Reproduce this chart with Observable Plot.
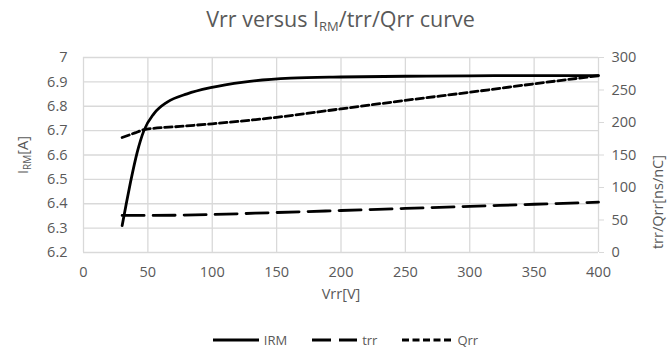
<!DOCTYPE html>
<html><head><meta charset="utf-8">
<script src="https://cdn.jsdelivr.net/npm/d3@7"></script>
<script src="https://cdn.jsdelivr.net/npm/@observablehq/plot@0.6"></script>
<style>
body{margin:0;background:#fff;font-family:"Open Sans",sans-serif;}
#wrap{width:671px;height:353px;position:relative;overflow:hidden;}
#title{position:absolute;top:6px;left:0;width:681px;text-align:center;font-size:21.5px;color:#595959;line-height:26px;}
#title sub{font-size:13px;vertical-align:-4px;line-height:0;}
#chart{position:absolute;top:40px;left:0;}
#legend{position:absolute;top:330px;left:0;width:690px;display:flex;justify-content:center;gap:24px;font-size:13px;color:#595959;line-height:20px;}
#legend span{display:flex;align-items:center;gap:4px;}
</style>
</head><body>
<div id="wrap">
  <div id="title">Vrr versus I<sub>RM</sub>/trr/Qrr curve</div>
  <div id="chart"></div>
  <div id="legend"></div>
</div>
<script>
// Data
const irmV = [30, 33, 36.5, 41.7, 46.9, 54.6, 65, 80.5, 98.6, 124.5, 160.8, 200, 250, 300, 350, 400];
const irmA = [6.31, 6.394, 6.488, 6.611, 6.70, 6.769, 6.817, 6.851, 6.876, 6.899, 6.915, 6.920, 6.923, 6.925, 6.926, 6.926];
const trrV = [30, 50, 100, 150, 200, 250, 300, 350, 400];
const trrNs = [57, 57, 58.5, 61.5, 64.6, 67.8, 71, 74.2, 77.4];
const qrrV = [30, 40, 47, 75, 100, 150, 200, 250, 300, 350, 400];
const qrrNc = [177, 184, 189, 194, 198, 208, 221, 234, 246.5, 259.5, 272];
const xTicks = [0, 50, 100, 150, 200, 250, 300, 350, 400];
const leftTicks = [6.2, 6.3, 6.4, 6.5, 6.6, 6.7, 6.8, 6.9, 7];
const rightTicks = [0, 50, 100, 150, 200, 250, 300];

const leftDomain = [6.2, 7];
const rightDomain = [0, 300];
const toLeft = v => leftDomain[0] + (v - rightDomain[0]) / (rightDomain[1] - rightDomain[0]) * (leftDomain[1] - leftDomain[0]);
const toRight = y => rightDomain[0] + (y - leftDomain[0]) / (leftDomain[1] - leftDomain[0]) * (rightDomain[1] - rightDomain[0]);

const irm = irmV.map((v, i) => ({v, y: irmA[i]}));
const trr = trrV.map((v, i) => ({v, y: toLeft(trrNs[i])}));
const qrr = qrrV.map((v, i) => ({v, y: toLeft(qrrNc[i])}));

const gray = "#595959", grid = "#d9d9d9";
const W = 671, H = 275;
const dashTrr = "22,9", dashQrr = "7.5,3.5";
const plot = Plot.plot({
  width: W, height: H,
  marginLeft: 83, marginRight: 73, marginTop: 17, marginBottom: 63,
  style: {fontFamily: '"Open Sans", sans-serif', fontSize: "14.5px", color: gray, background: "#fff"},
  x: {domain: [0, 400]},
  y: {domain: leftDomain},
  marks: [
    Plot.gridX(xTicks, {stroke: grid, strokeOpacity: 1, strokeWidth: 1.3}),
    Plot.gridY(leftTicks, {stroke: grid, strokeOpacity: 1, strokeWidth: 1.3}),
    Plot.axisX(xTicks, {tickSize: 0, tickPadding: 14, label: null, fill: gray}),
    Plot.axisY(leftTicks, {anchor: "left", tickSize: 0, tickPadding: 16, label: null, fill: gray, tickFormat: d => String(+d.toFixed(1))}),
    Plot.axisY(rightTicks.map(toLeft), {anchor: "right", tickSize: 5, tickPadding: 8, label: null, fill: gray, stroke: grid, strokeOpacity: 1, tickFormat: d => String(Math.round(toRight(d)))}),
    Plot.text(["Vrr[V]"], {frameAnchor: "bottom", dy: 46, fill: gray, fontSize: 14.5}),
    Plot.text(["trr/Qrr[ns/nC]"], {frameAnchor: "right", dx: 60, rotate: -90, fill: gray, fontSize: 14.5}),
    Plot.line(trr, {x: "v", y: "y", stroke: "#000", strokeWidth: 2.8, strokeDasharray: dashTrr, curve: "monotone-x"}),
    Plot.line(qrr, {x: "v", y: "y", stroke: "#000", strokeWidth: 2.8, strokeDasharray: dashQrr, curve: "monotone-x"}),
    Plot.line(irm, {x: "v", y: "y", stroke: "#000", strokeWidth: 2.8, curve: "monotone-x"})
  ]
});
document.getElementById("chart").appendChild(plot);

// Left axis title with subscript
const svg = d3.select(plot);
const t = svg.append("text")
  .attr("transform", "translate(28,115) rotate(-90)")
  .attr("text-anchor", "middle")
  .attr("fill", gray)
  .style("font-size", "14.5px")
  .style("font-family", '"Open Sans", sans-serif');
t.append("tspan").text("I");
t.append("tspan").attr("font-size", "10px").attr("dy", "3").text("RM");
t.append("tspan").attr("dy", "-3").text("[A]");

// Legend
const legendItems = [
  {name: "IRM", dash: null, w: 48},
  {name: "trr", dash: "19,8", w: 47},
  {name: "Qrr", dash: "7,3.5", w: 52}
];
const lg = d3.select("#legend");
legendItems.forEach(it => {
  const s = lg.append("span");
  const sv = s.append("svg").attr("width", it.w).attr("height", 10);
  sv.append("line").attr("x1", 1).attr("x2", it.w - 1).attr("y1", 5).attr("y2", 5)
    .attr("stroke", "#000").attr("stroke-width", 2.8)
    .attr("stroke-dasharray", it.dash);
  s.append("span").text(it.name);
});
</script>
</body></html>
